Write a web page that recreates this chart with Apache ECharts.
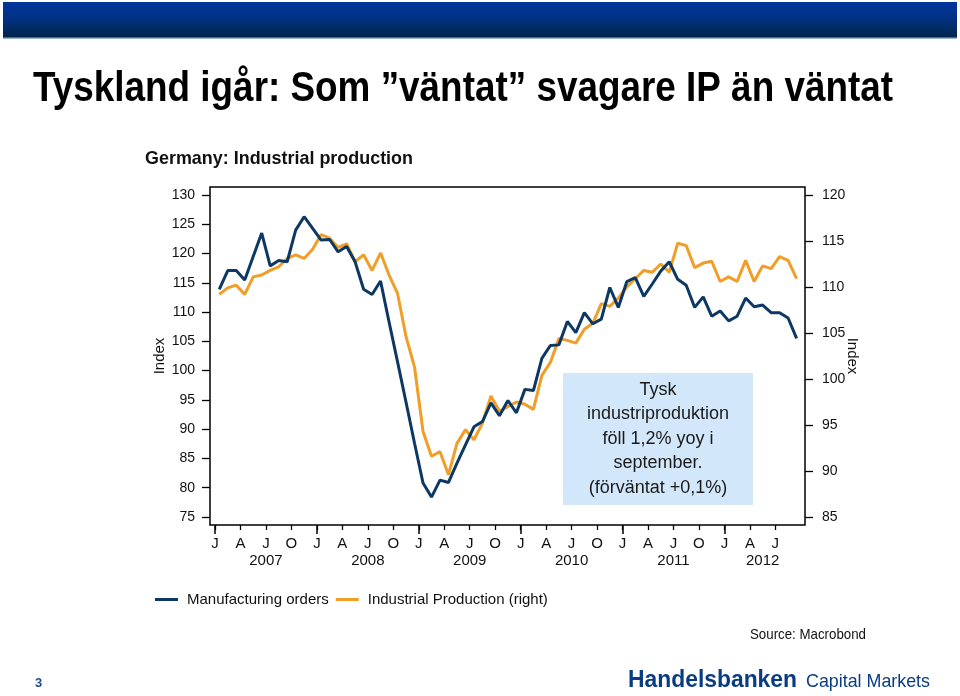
<!DOCTYPE html>
<html><head><meta charset="utf-8">
<script src="https://cdn.jsdelivr.net/npm/echarts@6/dist/echarts.min.js"></script>
<style>html,body{margin:0;padding:0;background:#fff}#c{width:960px;height:696px}</style>
</head><body><div id="c"></div><script>
// ---------------- DATA ----------------
const quarterLetters = ['J', 'A', 'J', 'O'];
const years = ['2007', '2008', '2009', '2010', '2011', '2012'];
// month offsets from Jan 2007 for the quarter labels / yearly ticks
const quarterStarts = [0,3,6,9,12,15,18,21,24,27,30,33,36,39,42,45,48,51,54,57,60,63,66];
const yearStarts = [0,12,24,36,48,60];
const leftTicks = [75,80,85,90,95,100,105,110,115,120,125,130];
const rightTicks = [85,90,95,100,105,110,115,120];
const seriesNames = ['Manufacturing orders', 'Industrial Production (right)'];
// monthly values, Jan 2007 .. Sep 2012
const manufacturingOrders = [
  113.9,117.1,117.1,115.5,119.5,123.5,117.9,118.8,118.6,124.0,126.3,124.3,
  122.3,122.4,120.3,121.2,118.6,113.9,113.0,115.3,108.3,101.5,94.6,87.6,
  80.8,78.4,81.3,80.9,84.2,87.3,90.4,91.3,94.5,92.3,94.9,92.8,
  96.8,96.6,102.1,104.3,104.4,108.4,106.5,109.9,108.0,108.8,114.2,110.8,
  115.2,115.9,112.7,114.8,117.0,118.6,115.6,114.6,110.8,112.6,109.3,110.2,
  108.5,109.3,112.4,110.9,111.2,109.9,109.9,109.0,105.5
];
const industrialProduction = [
  109.2,109.9,110.2,109.2,111.1,111.3,111.8,112.2,113.1,113.5,113.1,114.1,
  115.7,115.3,114.3,114.7,112.75,113.5,111.8,113.7,111.3,109.3,104.6,101.3,
  94.3,91.6,92.1,89.6,93.0,94.5,93.4,95.2,98.15,96.5,97.0,97.5,
  97.25,96.7,100.4,101.8,104.4,104.2,103.9,105.4,106.05,108.2,107.9,108.8,
  110.0,110.9,111.8,111.6,112.5,111.6,114.75,114.5,112.1,112.6,112.8,110.6,
  111.1,110.6,112.9,110.6,112.3,112.0,113.3,112.9,110.9
];
const annotationLines = ['Tysk', 'industriproduktion', 'föll 1,2% yoy i', 'september.', '(förväntat +0,1%)'];

// year labels centred on the part of each year covered by the data
const nMonths = manufacturingOrders.length;
const yearCenters = yearStarts.map(s => (s + Math.min(s + 12, nMonths)) / 2);

// ---------------- HELPERS ----------------
const FONT = "'Liberation Sans', Arial, Helvetica, sans-serif";
const ctx = document.createElement('canvas').getContext('2d');
function measure(text, font) { ctx.font = font; return ctx.measureText(text).width; }

function fitText(text, weight, size, x, y, targetW, fill) {
  const font = weight + ' ' + size + 'px ' + FONT;
  const w = measure(text, font);
  return {
    type: 'text', x: x, y: y, scaleX: targetW / w, z: 100,
    style: { text: text, font: font, fill: fill, align: 'left', verticalAlign: 'middle',
             textAlign: 'left', textVerticalAlign: 'middle' }
  };
}

const chart = echarts.init(document.getElementById('c'), null, { renderer: 'canvas' });

const xMin = -0.59, xMax = 69.49;
const option = {
  animation: false,
  backgroundColor: '#ffffff',
  grid: { left: 210, right: 155, top: 187, bottom: 171, show: true,
          borderColor: '#000', borderWidth: 1.5, backgroundColor: 'transparent' },
  legend: {
    left: 155, top: 592, padding: 0, icon: 'rect', itemWidth: 23, itemHeight: 3, itemGap: 7,
    textStyle: { fontSize: 15, color: '#111', fontFamily: FONT, padding: [0, 0, 0, 4] },
    data: seriesNames
  },
  xAxis: [
    {
      type: 'value', min: xMin, max: xMax, position: 'bottom',
      axisLine: { show: false, onZero: false }, splitLine: { show: false },
      axisTick: { show: true, customValues: quarterStarts, length: 5, lineStyle: { color: '#000', width: 1.3 } },
      axisLabel: {
        customValues: quarterStarts, margin: 11, hideOverlap: false,
        fontSize: 15, fontFamily: FONT, color: '#111',
        formatter: function (v) { return quarterLetters[Math.round(v / 3) % 4]; }
      }
    },
    {
      type: 'value', min: xMin, max: xMax, position: 'bottom',
      axisLine: { show: false, onZero: false }, splitLine: { show: false },
      axisTick: { show: true, customValues: yearStarts, length: 9, lineStyle: { color: '#000', width: 1.5 } },
      axisLabel: {
        customValues: yearCenters, margin: 28, hideOverlap: false,
        fontSize: 15, fontFamily: FONT, color: '#111',
        formatter: function (v) { return years[Math.floor(v / 12)]; }
      }
    }
  ],
  yAxis: [
    {
      type: 'value', position: 'left', min: 73.63, max: 131.37,
      axisLine: { show: false, onZero: false }, splitLine: { show: false },
      axisTick: { show: true, customValues: leftTicks, length: 8, lineStyle: { color: '#000', width: 1.3 } },
      axisLabel: { customValues: leftTicks, margin: 15, fontSize: 14, fontFamily: FONT, color: '#111' }
    },
    {
      type: 'value', position: 'right', min: 84.13, max: 120.87,
      axisLine: { show: false, onZero: false }, splitLine: { show: false },
      axisTick: { show: true, customValues: rightTicks, length: 8, lineStyle: { color: '#000', width: 1.3 } },
      axisLabel: { customValues: rightTicks, margin: 17, fontSize: 14, fontFamily: FONT, color: '#111' }
    }
  ],
  series: [
    {
      name: seriesNames[0], type: 'line', xAxisIndex: 0, yAxisIndex: 0, z: 3,
      showSymbol: false, symbol: 'none',
      itemStyle: { color: '#0d3863' }, lineStyle: { color: '#0d3863', width: 3 },
      data: manufacturingOrders.map((v, i) => [i + 0.5, v])
    },
    {
      name: seriesNames[1], type: 'line', xAxisIndex: 0, yAxisIndex: 1, z: 2,
      showSymbol: false, symbol: 'none',
      itemStyle: { color: '#f09e27' }, lineStyle: { color: '#f09e27', width: 3 },
      data: industrialProduction.map((v, i) => [i + 0.5, v])
    }
  ],
  graphic: { elements: [
    { type: 'rect', shape: { x: 3, y: 2, width: 954, height: 36 }, z: 1,
      style: { fill: new echarts.graphic.LinearGradient(0, 0, 0, 1, [
        { offset: 0, color: '#00369c' }, { offset: 0.45, color: '#003183' }, { offset: 1, color: '#012447' }]) } },
    { type: 'rect', shape: { x: 3, y: 37.5, width: 954, height: 1.5 }, z: 1, style: { fill: '#9db2cc' } },
    fitText('Tyskland igår: Som \u201dväntat\u201d svagare IP än väntat', 'bold', 42, 33, 89, 860, '#000'),
    fitText('Germany: Industrial production', 'bold', 19, 145, 159, 268, '#111'),
    { type: 'text', x: 160, y: 356, rotation: Math.PI / 2, z: 100,
      style: { text: 'Index', font: '15px ' + FONT, fill: '#111', align: 'center', verticalAlign: 'middle',
               textAlign: 'center', textVerticalAlign: 'middle' } },
    { type: 'text', x: 852, y: 356, rotation: -Math.PI / 2, z: 100,
      style: { text: 'Index', font: '15px ' + FONT, fill: '#111', align: 'center', verticalAlign: 'middle',
               textAlign: 'center', textVerticalAlign: 'middle' } },
    { type: 'rect', shape: { x: 563, y: 373, width: 190, height: 132 }, z: 50, style: { fill: '#d3e7fa' } },
    { type: 'text', x: 658, y: 439, z: 60,
      style: { text: annotationLines.join('\n'), font: '18px ' + FONT, lineHeight: 24.5, fill: '#1a1a1a',
               align: 'center', verticalAlign: 'middle', textAlign: 'center', textVerticalAlign: 'middle' } },
    fitText('Source: Macrobond', 'normal', 15, 750, 635, 116, '#111'),
    { type: 'text', x: 35, y: 683, z: 100,
      style: { text: '3', font: 'bold 13px ' + FONT, fill: '#1d4a92', align: 'left', verticalAlign: 'middle',
               textAlign: 'left', textVerticalAlign: 'middle' } },
    fitText('Handelsbanken', 'bold', 24, 628, 680.5, 169, '#0a3c84'),
    fitText('Capital Markets', 'normal', 19, 806, 682, 124, '#0a3c84')
  ] }
};
chart.setOption(option);
</script></body></html>
